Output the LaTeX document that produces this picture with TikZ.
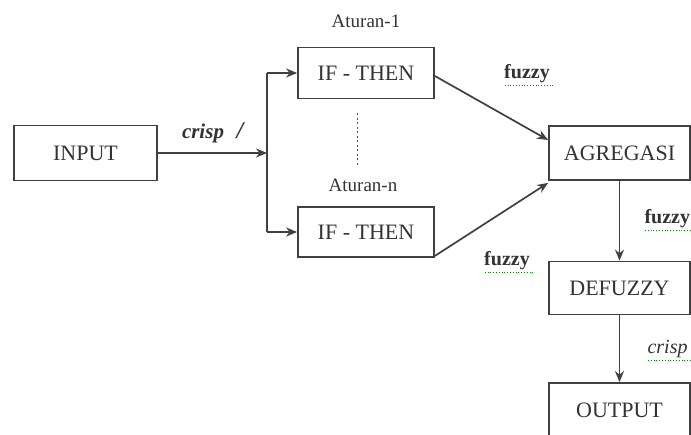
\documentclass[tikz,border=0pt]{standalone}
\usepackage{fontspec}
\setmainfont{Liberation Serif}
\usetikzlibrary{arrows.meta}
\begin{document}
\begin{tikzpicture}[x=1pt,y=-1pt,
  box/.style={draw=black!75,line width=1.8pt,rectangle,inner sep=0pt,font=\fontsize{22}{24}\selectfont,text=black!80},
  conn/.style={draw=black!75,line width=1.7pt},
  arr/.style={conn,-{Stealth[length=11pt,width=9pt]}},
  lbl/.style={font=\fontsize{19}{22}\selectfont,text=black!80},
  fz/.style={font=\fontsize{20}{22}\selectfont\bfseries,text=black!80},
  spell/.style={draw=green!55!black,line width=0.8pt,dotted}]
\useasboundingbox (0,0) rectangle (691,434);
\fill[white] (0,0) rectangle (691,434);
\node[box,minimum width=143pt,minimum height=55pt] (in) at (85.5,153) {INPUT};
\node[box,minimum width=136pt,minimum height=51pt] (if1) at (366,73) {IF - THEN};
\node[box,minimum width=136pt,minimum height=50pt] (if2) at (366,232) {IF - THEN};
\node[box,minimum width=141pt,minimum height=54pt] (agr) at (619.5,153) {AGREGASI};
\node[box,minimum width=141pt,minimum height=53pt] (def) at (619.5,288) {DEFUZZY};
\node[box,minimum width=141pt,minimum height=54pt] (out) at (619.5,410) {OUTPUT};
\node[lbl] (a1) at (366,21) {Aturan-1};
\node[lbl] (an) at (363,185) {Aturan-n};
\coordinate (j) at (267,153);
\coordinate (j1) at (267,73);
\coordinate (j2) at (267,232);
\draw[arr] (in.east) -- (j);
\draw[conn] (j1) -- (j2);
\draw[arr] (j1) -- (if1.west);
\draw[arr] (j2) -- (if2.west);
\draw[draw=black!70,line width=1pt,dash pattern=on 2pt off 2.5pt] (if1.south) ++(-9,14) coordinate (d1) -- ++(0,53) coordinate (d2);
\draw[arr] ([yshift=-3pt]if1.east) -- ([yshift=13pt]agr.west);
\draw[arr] ([yshift=2pt]if2.south east) -- ([yshift=-2pt]agr.south west);
\draw[arr] (agr.south) -- (def.north);
\draw[arr] (def.south) -- (out.north);
\node[font=\fontsize{21}{24}\selectfont\bfseries\itshape,text=black!80] (c1) at (203,133) {crisp};
\node[font=\fontsize{24}{24}\selectfont\bfseries\itshape,text=black!80] (sl) at (240,131) {/};
\node[fz] (f1) at (527,74) {fuzzy};
\node[fz] (f2) at (507,261) {fuzzy};
\node[fz,anchor=west] (f3) at (641,219) {fuzzy};
\node[font=\fontsize{20}{22}\selectfont\itshape,text=black!80,anchor=west] (c2) at (644,349) {crisp};
\draw[spell] ([yshift=1pt]f1.south west) ++(4,0) -- ([yshift=1pt]f1.south east);
\draw[spell] ([yshift=1pt]f2.south west) ++(4,0) -- ([yshift=1pt]f2.south east);
\draw[spell] ([yshift=1pt]f3.south west) ++(4,0) -- ([yshift=1pt]f3.south east);
\draw[spell] ([yshift=1pt]c2.south west) ++(4,0) -- ([yshift=1pt]c2.south east);
\end{tikzpicture}
\end{document}
